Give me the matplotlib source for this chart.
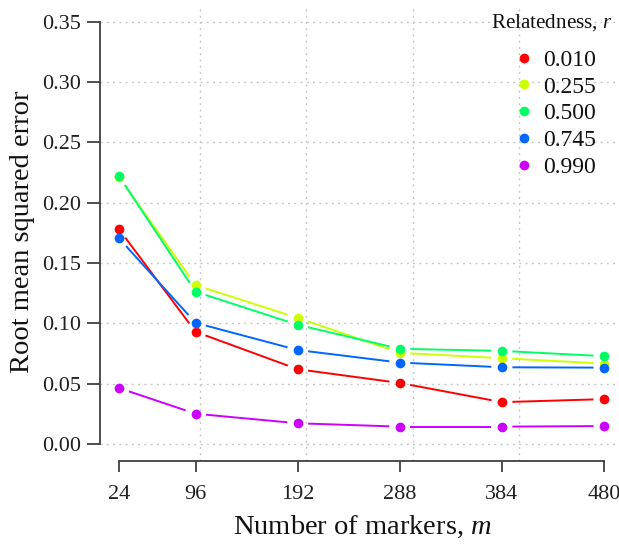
import matplotlib
matplotlib.use("Agg")
import matplotlib.pyplot as plt
import numpy as np

plt.rcParams['font.family'] = ['Liberation Serif', 'DejaVu Serif']
plt.rcParams['mathtext.fontset'] = 'custom'
plt.rcParams['mathtext.it'] = 'Liberation Serif:italic'
plt.rcParams['mathtext.rm'] = 'Liberation Serif'

markers = [24, 96, 192, 288, 384, 480]   # antall markorer, m
relatedness = ['0.010', '0.255', '0.500', '0.745', '0.990']
farger = ['#FF0000', '#CCFF00', '#00FF66', '#0066FF', '#CC00FF']

rmse_010 = [0.178, 0.093, 0.062, 0.0506, 0.0347, 0.0372]
rmse_255 = [0.221, 0.1317, 0.1045, 0.0756, 0.0711, 0.0667]
rmse_500 = [0.222, 0.1262, 0.0988, 0.0789, 0.0772, 0.0728]
rmse_745 = [0.1705, 0.1004, 0.0779, 0.0675, 0.0636, 0.0633]
rmse_990 = [0.0464, 0.0251, 0.0172, 0.0144, 0.0144, 0.0149]
serier = [rmse_010, rmse_255, rmse_500, rmse_745, rmse_990]

yticks = [0.00, 0.05, 0.10, 0.15, 0.20, 0.25, 0.30, 0.35]
xgrid = [100, 200, 300, 400]

fig = plt.figure(figsize=(6.19, 5.51), dpi=100)
ax = fig.add_axes([0.1609, 0.1635, 0.8462, 0.8278])
ax.set_xlim(5.76, 498.24)
ax.set_ylim(-0.014, 0.364)

# grid (dotted)
for gx in xgrid:
    ax.axvline(gx, color='#c8c8c8', lw=1, ls=(0, (1.5, 3)), zorder=0)
for gy in yticks:
    ax.axhline(gy, color='#c8c8c8', lw=1, ls=(0, (1.5, 3)), zorder=0)

# linjer med mellomrom rundt punktene (som type="b" i R)
def linjer_med_gap(x, y, farge, gap=10.5):
    pts = ax.transData.transform(np.column_stack([x, y]))
    inv = ax.transData.inverted()
    for p0, p1 in zip(pts[:-1], pts[1:]):
        d = p1 - p0
        L = np.hypot(d[0], d[1])
        if L <= 2 * gap:
            continue
        u = d / L
        seg = inv.transform([p0 + u * gap, p1 - u * gap])
        ax.plot(seg[:, 0], seg[:, 1], color=farge, lw=1.4, zorder=2,
                solid_capstyle='butt')

handles = []
for navn, verdier, farge in zip(relatedness, serier, farger):
    linjer_med_gap(markers, verdier, farge)
    h, = ax.plot(markers, verdier, 'o', color=farge, ms=7, mec='none',
                 ls='none', label=navn, zorder=3)
    handles.append(h)

for s in ['top', 'right']:
    ax.spines[s].set_visible(False)
for s in ['left', 'bottom']:
    ax.spines[s].set_color('#404040')
    ax.spines[s].set_linewidth(1.3)
ax.spines['left'].set_bounds(0, 0.35)
ax.spines['bottom'].set_bounds(24, 480)

ax.set_yticks(yticks)
ax.set_yticklabels(['%.2f' % v for v in yticks])
ax.set_xticks(markers)
ax.set_xticklabels([str(m) for m in markers])
ax.tick_params(axis='y', length=9.1, width=1.3, color='#404040', pad=4.3,
               labelsize=16, labelcolor='#202020')
ax.tick_params(axis='x', length=7.6, width=1.3, color='#404040', pad=10,
               labelsize=16, labelcolor='#202020')

fig.text(23 / 619, 1 - 232 / 551, 'Root mean squared error', rotation=90,
         ha='center', va='center', fontsize=20.5, color='#111111')
fig.text(362 / 619, 1 - 527 / 551, 'Number of markers, $m$',
         ha='center', va='center', fontsize=20.5, color='#111111')

fig.text(613 / 619, 1 - 23 / 551, 'Relatedness, $r$', ha='right', va='center',
         fontsize=15.2, color='#111111')
fig.legend(handles=handles, loc='upper left',
           bbox_to_anchor=(512 / 619, 1 - 49.5 / 551), frameon=False,
           fontsize=17, handlelength=1.0, handletextpad=0.3,
           labelspacing=0.22, borderpad=0, borderaxespad=0,
           labelcolor='#111111', markerscale=1.0)

fig.savefig('out.png', dpi=100)
